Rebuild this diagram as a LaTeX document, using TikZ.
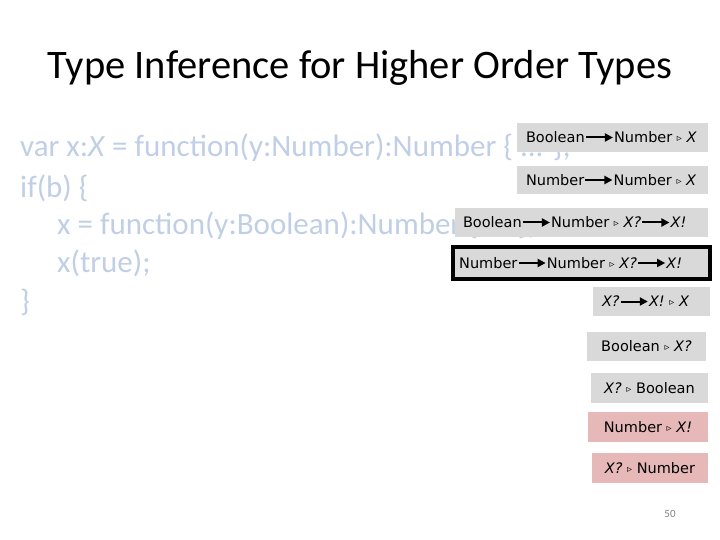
\documentclass[tikz,border=0pt]{standalone}
\usepackage{fontspec}
\setmainfont{Carlito}
\newfontfamily\boxfont{DejaVu Sans}
\usetikzlibrary{arrows.meta,positioning}

\definecolor{codeblue}{RGB}{192,207,229}
\definecolor{boxgray}{RGB}{217,217,217}
\definecolor{boxpink}{RGB}{230,185,184}

\newcommand{\subt}{{\fontsize{10}{10}\selectfont\raisebox{0.25ex}{▹}}}

\begin{document}
\begin{tikzpicture}[x=1pt,y=-1pt,
	code/.style={anchor=base west,text=codeblue,inner sep=0pt,font=\fontsize{31}{36}\selectfont},
	tybox/.style={fill=boxgray,inner sep=0pt},
	ty/.style={font=\boxfont\fontsize{14.5}{16}\selectfont,inner sep=1pt},
	tyarrow/.style={-{Triangle[length=8pt,width=8pt]},line width=2pt},
	node distance=27pt]

		\useasboundingbox (0,0) rectangle (720,540);

		\node[font=\fontsize{40.5}{46}\selectfont] (title) at (360,68) {Type Inference for Higher Order Types};

		% the program
		\node[code] (l1) at (20,157) {var x:\textit{X} = function(y:Number):Number \{ ... \};};
		\node[code] (l2) at (20,197) {if(b) \{};
		\node[code] (l3) at (57,234) {x = function(y:Boolean):Number \{ ... \};};
		\node[code] (l4) at (57,272) {x(true);};
		\node[code] (l5) at (20,311) {\}};

		% constraints
		\node[tybox,minimum width=191,minimum height=29] (b1) at (612.5,137.5) {};
		\node[ty,anchor=west] (b1l) at ([xshift=8]b1.west) {Boolean};
		\node[ty,right=of b1l] (b1r) {Number \subt\ \textit{X}};
		\draw[tyarrow] (b1l) -- (b1r);

		\node[tybox,minimum width=191,minimum height=28] (b2) at (612.5,180) {};
		\node[ty,anchor=west] (b2l) at ([xshift=8]b2.west) {Number};
		\node[ty,right=of b2l] (b2r) {Number \subt\ \textit{X}};
		\draw[tyarrow] (b2l) -- (b2r);

		\node[tybox,minimum width=253,minimum height=29] (b3) at (581.5,222.5) {};
		\node[ty,anchor=west] (b3l) at ([xshift=7]b3.west) {Boolean};
		\node[ty,right=of b3l] (b3m) {Number \subt\ \textit{X?}};
		\node[ty,right=of b3m] (b3r) {\textit{X!}};
		\draw[tyarrow] (b3l) -- (b3m);
		\draw[tyarrow] (b3m) -- (b3r);

		\node[tybox,draw=black,line width=4pt,minimum width=257,minimum height=32] (b4) at (581.5,263) {};
		\node[ty,anchor=west] (b4l) at ([xshift=7]b4.west) {Number};
		\node[ty,right=of b4l] (b4m) {Number \subt\ \textit{X?}};
		\node[ty,right=of b4m] (b4r) {\textit{X!}};
		\draw[tyarrow] (b4l) -- (b4m);
		\draw[tyarrow] (b4m) -- (b4r);

		\node[tybox,minimum width=117,minimum height=29] (b5) at (651.5,301.5) {};
		\node[ty,anchor=west] (b5l) at ([xshift=8]b5.west) {\textit{X?}};
		\node[ty,right=of b5l] (b5r) {\textit{X!} \subt\ \textit{X}};
		\draw[tyarrow] (b5l) -- (b5r);

		\node[tybox,ty,minimum width=119,minimum height=29] (b6) at (646.5,346.5) {Boolean \subt\ \textit{X?}};
		\node[tybox,ty,minimum width=117,minimum height=30] (b7) at (649.5,388) {\textit{X?} \subt\ Boolean};
		\node[tybox,ty,fill=boxpink,minimum width=120,minimum height=30] (b8) at (648,427) {Number \subt\ \textit{X!}};
		\node[tybox,ty,fill=boxpink,minimum width=116,minimum height=30] (b9) at (650,468) {\textit{X?} \subt\ Number};

		\node[font=\fontsize{11}{12}\selectfont,text=gray] (page) at (670,514) {50};

	\end{tikzpicture}
\end{document}
